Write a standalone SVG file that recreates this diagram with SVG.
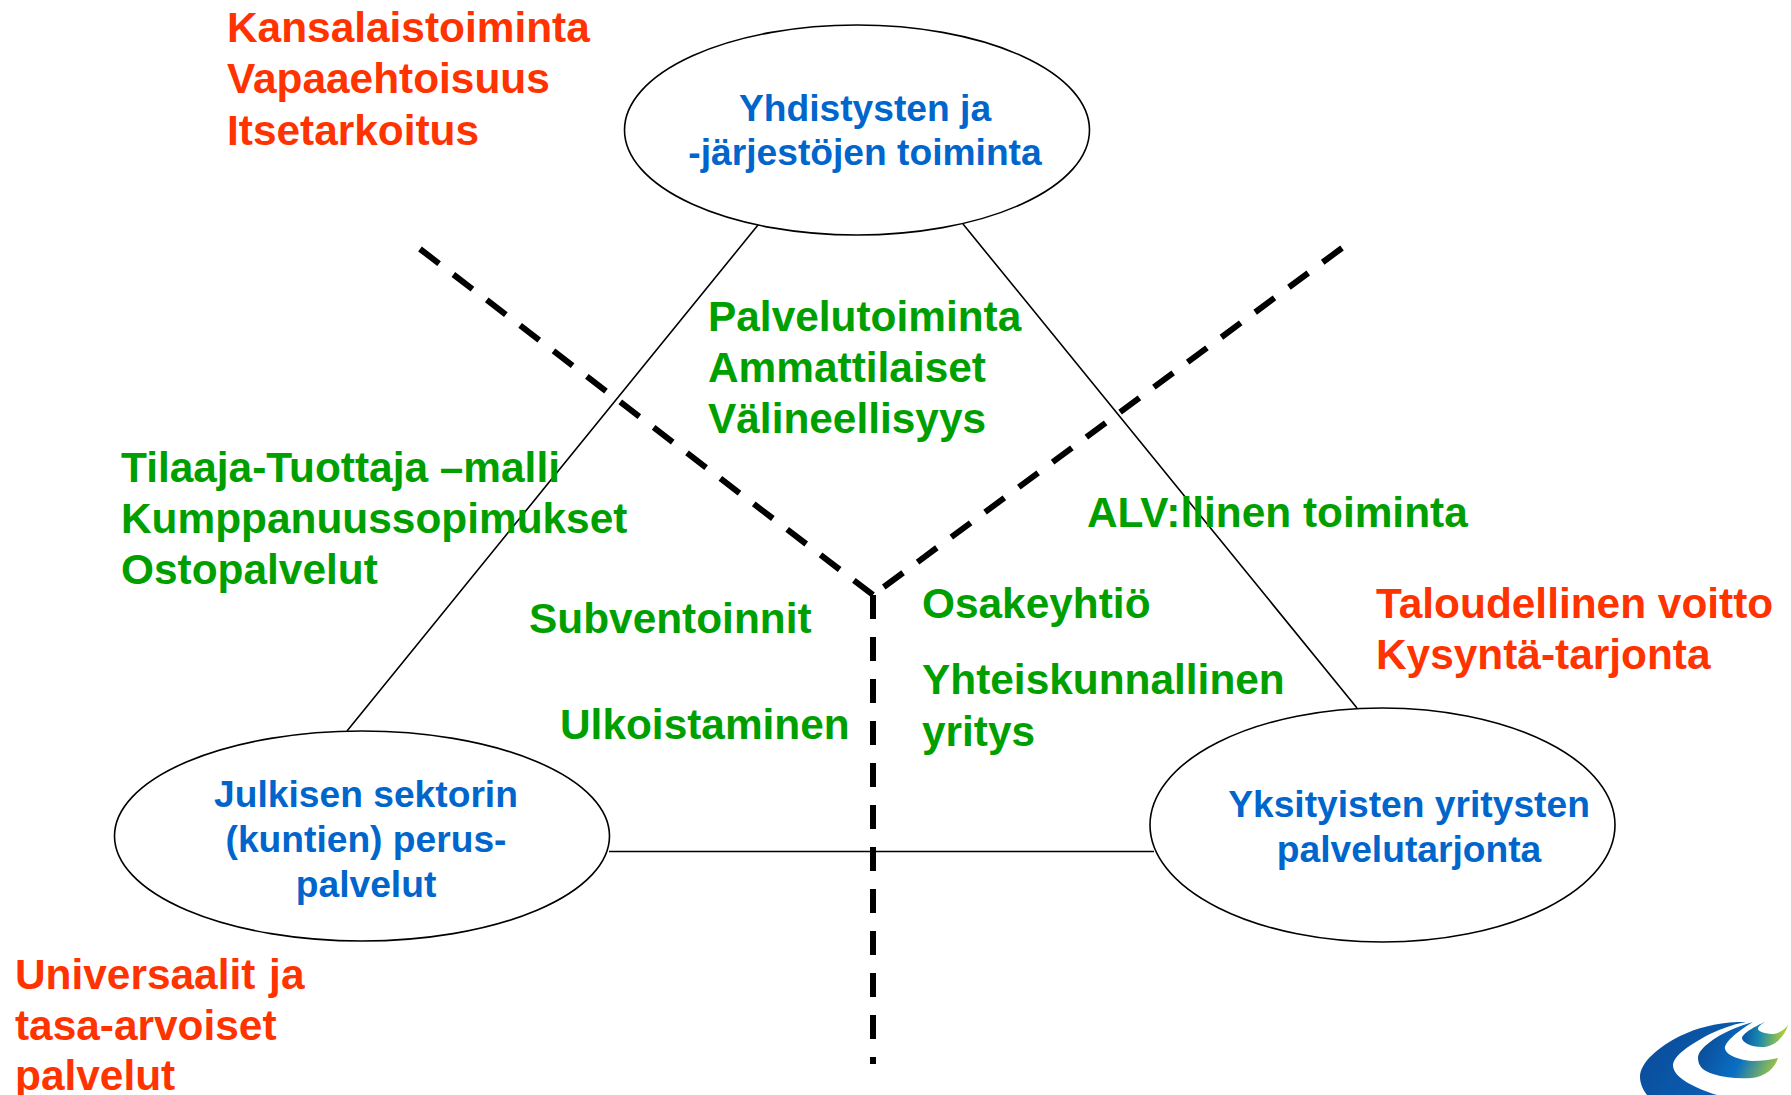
<svg xmlns="http://www.w3.org/2000/svg" width="1791" height="1095" viewBox="0 0 1791 1095">
<style>
text{font-family:"Liberation Sans",Arial,sans-serif;font-weight:700}
.r{fill:#ff3300;font-size:42.4px}
.g{fill:#009f00;font-size:42.4px}
.b{fill:#0066cc;font-size:37.2px;text-anchor:middle}
.e{fill:#fff;stroke:#000;stroke-width:1.6}
.l{stroke:#000;stroke-width:1.6;fill:none}
.d{stroke:#000;stroke-width:6;fill:none;stroke-dasharray:24 18}
</style>
<defs>
<linearGradient id="s1" gradientUnits="userSpaceOnUse" x1="1640" y1="1030" x2="1730" y2="1095"><stop offset="0" stop-color="#0a4a96"/><stop offset="1" stop-color="#0a62b8"/></linearGradient>
<linearGradient id="s2" gradientUnits="userSpaceOnUse" x1="1700" y1="1040" x2="1775" y2="1075"><stop offset="0" stop-color="#0a4a96"/><stop offset="0.55" stop-color="#0a70c4"/><stop offset="1" stop-color="#a8cc3a"/></linearGradient>
<linearGradient id="s3" gradientUnits="userSpaceOnUse" x1="1745" y1="1035" x2="1782" y2="1040"><stop offset="0" stop-color="#0a5aa6"/><stop offset="0.4" stop-color="#1a8ab0"/><stop offset="1" stop-color="#a8cc3a"/></linearGradient>
</defs>
<g id="connectors">
<path class="l" d="M758 225L347 731M963 224L1357 708M609 851.5H1154"/>
<path class="d" d="M420 249L873 595"/>
<path class="d" d="M1342 248L873 595"/>
<path class="d" d="M873 595V1064"/>
</g>
<g id="node-top"><ellipse class="e" cx="857" cy="130" rx="232.500" ry="105"/>
<text class="b" x="865" y="121">Yhdistysten ja</text><text class="b" x="865" y="165">-järjestöjen toiminta</text></g>
<g id="node-left"><ellipse class="e" cx="362" cy="836" rx="247.500" ry="105"/>
<text class="b" x="366" y="807">Julkisen sektorin</text><text class="b" x="366" y="852">(kuntien) perus-</text><text class="b" x="366" y="897">palvelut</text></g>
<g id="node-right"><ellipse class="e" cx="1382.500" cy="825" rx="232.500" ry="117"/>
<text class="b" x="1409" y="817">Yksityisten yritysten</text><text class="b" x="1409" y="862">palvelutarjonta</text></g>
<g id="labels">
<text class="r" x="227" y="42">Kansalaistoiminta</text><text class="r" x="227" y="93">Vapaaehtoisuus</text><text class="r" x="227" y="145">Itsetarkoitus</text>
<text class="g" x="708" y="331">Palvelutoiminta</text><text class="g" x="708" y="382">Ammattilaiset</text><text class="g" x="708" y="433">Välineellisyys</text>
<text class="g" x="121" y="482">Tilaaja-Tuottaja –malli</text><text class="g" x="121" y="533">Kumppanuussopimukset</text><text class="g" x="121" y="584">Ostopalvelut</text>
<text class="g" x="1087" y="527">ALV:llinen toiminta</text>
<text class="g" x="529" y="633">Subventoinnit</text><text class="g" x="560" y="739">Ulkoistaminen</text>
<text class="g" x="922" y="618">Osakeyhtiö</text><text class="g" x="922" y="694">Yhteiskunnallinen</text><text class="g" x="922" y="746">yritys</text>
<text class="r" x="1376" y="618">Taloudellinen voitto</text><text class="r" x="1376" y="669">Kysyntä-tarjonta</text>
<text class="r" x="15" y="989" word-spacing="2">Universaalit ja</text><text class="r" x="15" y="1040">tasa-arvoiset</text><text class="r" x="15" y="1090">palvelut</text>
</g>
<g id="logo">
<path fill="url(#s1)" d="M1738 1022C1715 1023 1697 1028 1680 1036C1660 1046 1640 1062 1640 1077C1640 1083 1643 1090 1647 1095H1717C1695 1088 1673 1078 1673 1065C1674 1055 1690 1045 1706 1036C1718 1030 1730 1025 1746 1022Z"/>
<path fill="url(#s2)" d="M1753 1022C1738 1026 1720 1034 1710 1042C1702 1048 1698 1053 1698 1058C1698 1066 1703 1071 1713 1074C1725 1078 1740 1079 1752 1078C1765 1077 1775 1068 1778 1058C1770 1060 1762 1061 1752 1061C1740 1060 1727 1056 1725 1049C1724 1043 1735 1033 1753 1022Z"/>
<path fill="url(#s3)" d="M1765 1022C1755 1026 1742 1034 1742 1038C1742 1042 1750 1047 1762 1047C1775 1047 1785 1036 1788 1025C1785 1029 1780 1033 1774 1034C1768 1034 1758 1032 1758 1029C1758 1026 1762 1024 1765 1022Z"/>
</g>
</svg>
